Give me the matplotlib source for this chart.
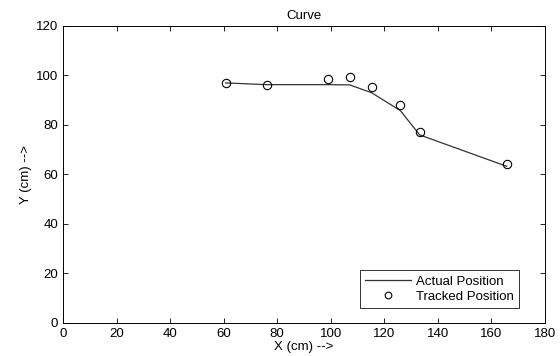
import matplotlib
matplotlib.use("Agg")
import matplotlib.pyplot as plt

x_cm = [60.7, 76.0, 99.1, 107.1, 115.3, 126.0, 133.2, 165.7]
y_actual = [97.0, 96.3, 96.3, 96.2, 93.0, 85.8, 76.0, 63.3]
y_tracked = [97.0, 96.3, 98.6, 99.5, 95.2, 88.2, 77.3, 64.2]

plt.rcParams["font.family"] = ["Liberation Sans", "DejaVu Sans"]
tam_font = 9.5

fig = plt.figure(figsize=(5.6, 3.56), dpi=100)
ax = fig.add_axes([0.1125, 0.0927, 0.8607, 0.8343])

ax.plot(x_cm, y_actual, color="#333333", linewidth=0.9, label="Actual Position")
ax.plot(x_cm, y_tracked, linestyle="none", marker="o", markersize=6,
        markerfacecolor="none", markeredgecolor="black", markeredgewidth=0.8,
        label="Tracked Position")

ax.set_xlim(0, 180)
ax.set_ylim(0, 120)
ax.set_xticks(range(0, 181, 20))
ax.set_yticks(range(0, 121, 20))
ax.tick_params(direction="in", top=True, right=True, labelsize=tam_font, length=3.5, width=0.6)
for s in ax.spines.values():
    s.set_linewidth(0.7)

ax.set_title("Curve", fontsize=tam_font, pad=5)
ax.set_xlabel("X (cm) -->", fontsize=tam_font, labelpad=1)
ax.set_ylabel("Y (cm) -->", fontsize=tam_font, labelpad=3)

leg = ax.legend(loc="lower right", bbox_to_anchor=(0.946, 0.05), fontsize=tam_font,
                frameon=True, fancybox=False, edgecolor="black", borderaxespad=0,
                handlelength=3.5, handletextpad=0.35, borderpad=0.4,
                labelspacing=0.2, markerscale=0.8)
leg.get_frame().set_linewidth(0.7)

plt.savefig("out.png", dpi=100)
